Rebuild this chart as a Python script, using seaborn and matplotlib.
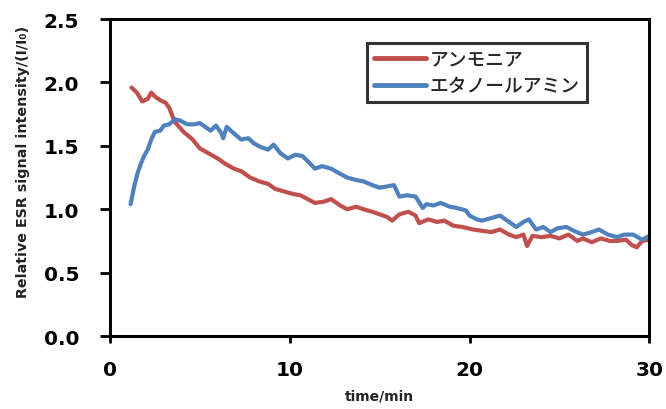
import matplotlib
matplotlib.use("Agg")
import matplotlib.pyplot as plt
import seaborn as sns
import pandas as pd

# アンモニア (ammonia)
ammonia_time = [1.2, 1.5, 1.8, 2.1, 2.3, 2.5, 2.8, 3.1, 3.3, 3.6, 4.1, 4.6, 5.0, 5.5, 6.0,
                6.4, 6.9, 7.3, 7.8, 8.3, 8.8, 9.2, 9.7, 10.2, 10.6, 11.0, 11.4, 11.9, 12.3,
                12.8, 13.2, 13.7, 14.1, 14.6, 15.0, 15.4, 15.7, 16.1, 16.6, 17.0, 17.2, 17.7,
                18.2, 18.6, 19.1, 19.6, 20.2, 20.7, 21.2, 21.7, 22.2, 22.6, 23.0, 23.2, 23.5,
                24.0, 24.5, 25.0, 25.5, 26.0, 26.3, 26.8, 27.3, 27.8, 28.2, 28.7, 29.0, 29.3,
                29.6, 30.0]
ammonia_signal = [1.96, 1.92, 1.85, 1.87, 1.92, 1.89, 1.86, 1.84, 1.80, 1.69, 1.61, 1.55, 1.48,
                  1.44, 1.40, 1.36, 1.32, 1.30, 1.25, 1.22, 1.20, 1.16, 1.14, 1.12, 1.11, 1.08,
                  1.05, 1.06, 1.08, 1.03, 1.00, 1.02, 1.00, 0.98, 0.96, 0.94, 0.91, 0.96, 0.98,
                  0.95, 0.89, 0.92, 0.90, 0.91, 0.87, 0.86, 0.84, 0.83, 0.82, 0.84, 0.80, 0.78,
                  0.80, 0.71, 0.79, 0.78, 0.79, 0.77, 0.80, 0.75, 0.77, 0.74, 0.77, 0.75, 0.75,
                  0.76, 0.72, 0.70, 0.75, 0.76]

# エタノールアミン (ethanolamine)
ethanolamine_time = [1.15, 1.35, 1.55, 1.75, 1.9, 2.1, 2.3, 2.5, 2.8, 3.0, 3.3, 3.6, 3.9, 4.3,
                     4.7, 5.0, 5.3, 5.6, 5.9, 6.2, 6.3, 6.5, 6.8, 7.3, 7.7, 8.0, 8.4, 8.8, 9.1,
                     9.5, 9.9, 10.3, 10.7, 11.0, 11.4, 11.8, 12.3, 12.8, 13.2, 13.7, 14.1, 14.6,
                     15.0, 15.4, 15.8, 16.1, 16.5, 17.0, 17.4, 17.6, 18.0, 18.4, 18.9, 19.3, 19.8,
                     20.0, 20.4, 20.7, 21.2, 21.7, 22.2, 22.6, 23.0, 23.3, 23.7, 24.1, 24.5, 24.9,
                     25.4, 25.8, 26.3, 26.8, 27.2, 27.7, 28.2, 28.6, 29.1, 29.6, 30.0]
ethanolamine_signal = [1.04, 1.18, 1.29, 1.37, 1.42, 1.47, 1.55, 1.61, 1.62, 1.66, 1.67, 1.71,
                       1.70, 1.67, 1.67, 1.68, 1.65, 1.62, 1.66, 1.60, 1.56, 1.65, 1.61, 1.55,
                       1.56, 1.52, 1.49, 1.47, 1.51, 1.44, 1.40, 1.43, 1.42, 1.38, 1.32, 1.34,
                       1.32, 1.28, 1.25, 1.23, 1.22, 1.19, 1.17, 1.18, 1.19, 1.10, 1.11, 1.10,
                       1.01, 1.04, 1.03, 1.05, 1.02, 1.01, 0.99, 0.95, 0.92, 0.91, 0.93, 0.95,
                       0.90, 0.86, 0.90, 0.92, 0.84, 0.86, 0.82, 0.85, 0.86, 0.83, 0.80, 0.82,
                       0.84, 0.80, 0.78, 0.80, 0.80, 0.76, 0.79]

series_names = ["アンモニア", "エタノールアミン"]
colors = ["#C0504D", "#4F81BD"]

x_ticks = [0, 10, 20, 30]
y_ticks = [0.0, 0.5, 1.0, 1.5, 2.0, 2.5]

df = pd.concat([
    pd.DataFrame({"time": ammonia_time, "signal": ammonia_signal, "sample": series_names[0]}),
    pd.DataFrame({"time": ethanolamine_time, "signal": ethanolamine_signal, "sample": series_names[1]}),
])

sns.set_style("ticks")
plt.rcParams["font.family"] = ["DejaVu Sans", "Noto Sans CJK JP"]

fig = plt.figure(figsize=(6.66, 4.10), dpi=100)
ax = fig.add_axes([0.165, 0.178, 0.81, 0.773])

sns.lineplot(data=df, x="time", y="signal", hue="sample", palette=dict(zip(series_names, colors)),
             linewidth=3, ax=ax, legend=False)

ax.set_xlim(0, 30)
ax.set_ylim(0, 2.5)
ax.set_xticks(x_ticks)
ax.set_yticks(y_ticks)
ax.set_xticklabels([str(t) for t in x_ticks], fontsize=14.5, fontweight="bold")
ax.set_yticklabels([f"{t:.1f}" for t in y_ticks], fontsize=14.5, fontweight="bold")
ax.tick_params(axis="y", direction="out", length=7, width=2, pad=15, colors="black")
ax.tick_params(axis="x", direction="out", length=5, width=2, pad=12, colors="black")
for sp in ax.spines.values():
    sp.set_visible(True)
    sp.set_linewidth(2.2)
    sp.set_color("black")

ax.set_xlabel("time/min", fontsize=10, fontweight="bold", labelpad=7, color="#222222")
ax.set_ylabel("Relative ESR signal intensity/(I/I₀)", fontsize=10.3, fontweight="bold",
              color="#222222")
ax.yaxis.set_label_coords(-0.148, 0.552)

handles = [plt.Line2D([], [], color=c, linewidth=3.5) for c in colors]
leg = ax.legend(handles, series_names, loc="upper left", bbox_to_anchor=(0.477, 0.924),
                borderaxespad=0, frameon=True, fancybox=False, handlelength=2.8,
                handletextpad=0.2, labelspacing=0.4, borderpad=0.35,
                prop={"family": ["Noto Sans CJK JP", "DejaVu Sans"], "size": 13.5, "weight": "medium"})
leg.get_frame().set_edgecolor("black")
leg.get_frame().set_linewidth(2.2)

fig.savefig("out.png", dpi=100)
